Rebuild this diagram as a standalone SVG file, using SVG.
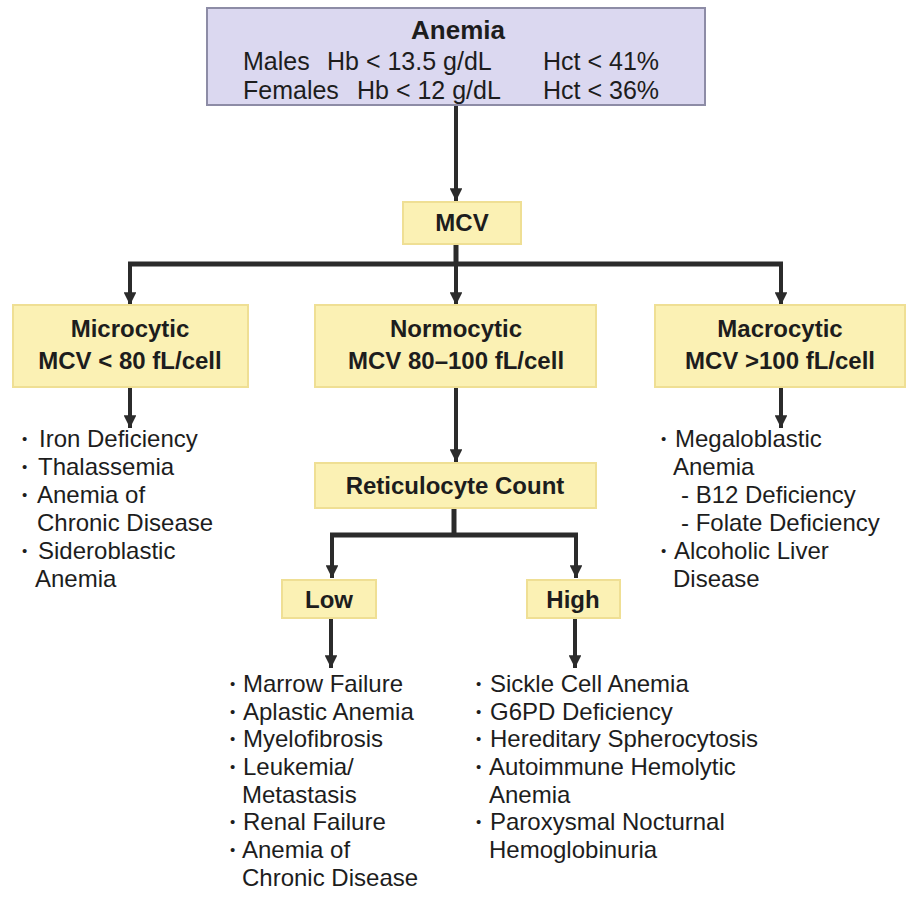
<svg xmlns="http://www.w3.org/2000/svg" width="909" height="897" viewBox="0 0 909 897">
<defs>
<marker id="ah" viewBox="0 0 10 10" refX="10" refY="5" markerWidth="3.2" markerHeight="3.2" orient="auto" markerUnits="strokeWidth">
<path d="M0,0 L10,5 L0,10 z" fill="#2b2b2b"/>
</marker>
<style>
.ybox{fill:#fbf1b4;stroke:#efdf94;stroke-width:2}
.pbox{fill:#dbd8f0;stroke:#8d8ca6;stroke-width:2}
.b{font-family:"Liberation Sans",Arial,sans-serif;font-weight:bold;font-size:24px;fill:#1d1d1d;text-anchor:middle}
.t{font-family:"Liberation Sans",Arial,sans-serif;font-size:24px;fill:#1d1d1d}
.d{font-family:"Liberation Sans",Arial,sans-serif;font-size:15px;fill:#1d1d1d}
.h{font-family:"Liberation Sans",Arial,sans-serif;font-size:25px;fill:#1d1d1d}
.ln{stroke:#2b2b2b;stroke-width:5;fill:none}
.ar{stroke:#2b2b2b;stroke-width:4;fill:none;marker-end:url(#ah)}
</style>
</defs>
<rect width="909" height="897" fill="#ffffff"/>
<g id="connectors">
<line class="ar" x1="456" y1="105" x2="456" y2="201"/>
<line class="ln" x1="456" y1="245" x2="456" y2="264"/>
<line class="ln" x1="128" y1="264" x2="783" y2="264"/>
<line class="ar" x1="130" y1="264" x2="130" y2="305"/>
<line class="ar" x1="456" y1="264" x2="456" y2="305"/>
<line class="ar" x1="781" y1="264" x2="781" y2="305"/>
<line class="ar" x1="130" y1="387" x2="130" y2="428"/>
<line class="ar" x1="456" y1="387" x2="456" y2="462"/>
<line class="ar" x1="781" y1="387" x2="781" y2="428"/>
<line class="ln" x1="454" y1="508" x2="454" y2="535"/>
<line class="ln" x1="330" y1="535" x2="578" y2="535"/>
<line class="ar" x1="332" y1="535" x2="332" y2="578"/>
<line class="ar" x1="576" y1="535" x2="576" y2="578"/>
<line class="ar" x1="331" y1="618" x2="331" y2="668"/>
<line class="ar" x1="575" y1="618" x2="575" y2="668"/>
</g>
<g id="anemia">
<rect class="pbox" x="207" y="8" width="498" height="97"/>
<text class="b" x="458" y="39" style="font-size:26px">Anemia</text>
<text class="h" x="243" y="70">Males</text>
<text class="h" x="327" y="70">Hb &lt; 13.5 g/dL</text>
<text class="h" x="543" y="70">Hct &lt; 41%</text>
<text class="h" x="243" y="99">Females</text>
<text class="h" x="357" y="99">Hb &lt; 12 g/dL</text>
<text class="h" x="543" y="99">Hct &lt; 36%</text>
</g>
<g id="mcv">
<rect class="ybox" x="403" y="202" width="118" height="42"/>
<text class="b" x="462" y="231">MCV</text>
</g>
<g id="microcytic">
<rect class="ybox" x="13" y="305" width="235" height="82"/>
<text class="b" x="130" y="337">Microcytic</text>
<text class="b" x="130" y="369">MCV &lt; 80 fL/cell</text>
</g>
<g id="normocytic">
<rect class="ybox" x="315" y="305" width="281" height="82"/>
<text class="b" x="456" y="337">Normocytic</text>
<text class="b" x="456" y="369">MCV 80–100 fL/cell</text>
</g>
<g id="macrocytic">
<rect class="ybox" x="655" y="305" width="250" height="82"/>
<text class="b" x="780" y="337">Macrocytic</text>
<text class="b" x="780" y="369">MCV &gt;100 fL/cell</text>
</g>
<g id="micro-list">
<text class="d" x="22" y="444">•</text><text class="t" x="39" y="447">Iron Deficiency</text>
<text class="d" x="22" y="472">•</text><text class="t" x="38" y="475">Thalassemia</text>
<text class="d" x="22" y="500">•</text><text class="t" x="37" y="503">Anemia of</text>
<text class="t" x="37" y="531">Chronic Disease</text>
<text class="d" x="22" y="556">•</text><text class="t" x="38" y="559">Sideroblastic</text>
<text class="t" x="35" y="587">Anemia</text>
</g>
<g id="macro-list">
<text class="d" x="661" y="444">•</text><text class="t" x="675" y="447">Megaloblastic</text>
<text class="t" x="673" y="475">Anemia</text>
<text class="t" x="681" y="503">- B12 Deficiency</text>
<text class="t" x="681" y="531">- Folate Deficiency</text>
<text class="d" x="661" y="556">•</text><text class="t" x="674" y="559">Alcoholic Liver</text>
<text class="t" x="673" y="587">Disease</text>
</g>
<g id="reticulocyte">
<rect class="ybox" x="315" y="463" width="281" height="45"/>
<text class="b" x="455" y="494">Reticulocyte Count</text>
</g>
<g id="low">
<rect class="ybox" x="282" y="580" width="94" height="38"/>
<text class="b" x="329" y="608">Low</text>
</g>
<g id="high">
<rect class="ybox" x="527" y="580" width="93" height="38"/>
<text class="b" x="573" y="608">High</text>
</g>
<g id="low-list">
<text class="d" x="230" y="689">•</text><text class="t" x="243" y="692">Marrow Failure</text>
<text class="d" x="230" y="717">•</text><text class="t" x="243" y="720">Aplastic Anemia</text>
<text class="d" x="230" y="744">•</text><text class="t" x="243" y="747">Myelofibrosis</text>
<text class="d" x="230" y="772">•</text><text class="t" x="243" y="775">Leukemia/</text>
<text class="t" x="242" y="803">Metastasis</text>
<text class="d" x="230" y="827">•</text><text class="t" x="243" y="830">Renal Failure</text>
<text class="d" x="230" y="855">•</text><text class="t" x="242" y="858">Anemia of</text>
<text class="t" x="242" y="886">Chronic Disease</text>
</g>
<g id="high-list">
<text class="d" x="476" y="689">•</text><text class="t" x="490" y="692">Sickle Cell Anemia</text>
<text class="d" x="476" y="717">•</text><text class="t" x="490" y="720">G6PD Deficiency</text>
<text class="d" x="476" y="744">•</text><text class="t" x="490" y="747">Hereditary Spherocytosis</text>
<text class="d" x="476" y="772">•</text><text class="t" x="489" y="775">Autoimmune Hemolytic</text>
<text class="t" x="489" y="803">Anemia</text>
<text class="d" x="476" y="827">•</text><text class="t" x="490" y="830">Paroxysmal Nocturnal</text>
<text class="t" x="489" y="858">Hemoglobinuria</text>
</g>
</svg>
